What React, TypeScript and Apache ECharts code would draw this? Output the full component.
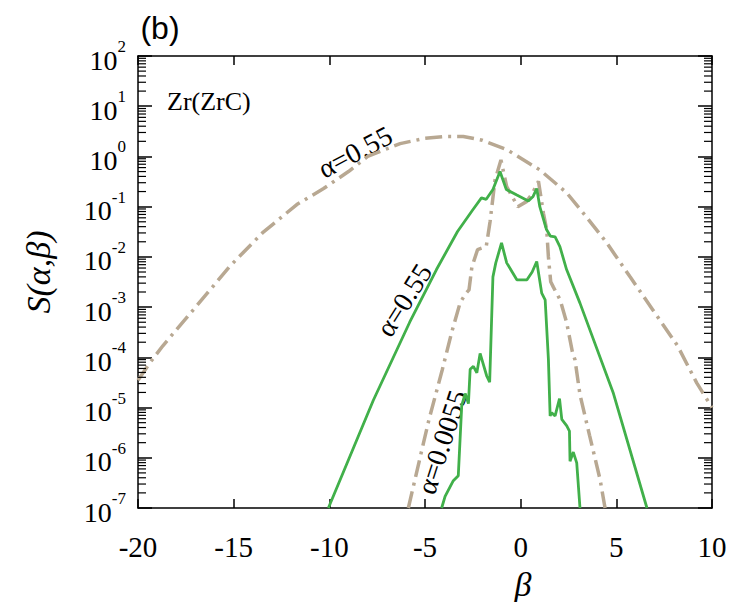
import { useEffect, useRef } from "react";
import * as echarts from "echarts";

const SERIF = "Liberation Serif";
const SANS = "Liberation Sans";
const BEIGE = "#b8a892";
const GREEN = "#41b04a";

// S(alpha, beta) for Zr in ZrC
const betaBroad = [-20, -19.4, -18.7, -16.9, -15.2, -13.5, -11.7, -10.3, -9.0, -8.0, -6.3, -5.0, -4.0, -3.0, -2.0, -0.7, 1.0, 2.4, 3.4, 4.5, 5.7, 6.9, 8.2, 9.2, 10];
const sBroad = [3.5e-5, 7.6e-5, 1.7e-4, 1.1e-3, 6.5e-3, 3.0e-2, 0.11, 0.23, 0.5, 1.0, 1.8, 2.3, 2.5, 2.5, 2.1, 1.35, 0.54, 0.19, 0.065, 0.019, 4.1e-3, 8.9e-4, 1.7e-4, 3.1e-5, 1.0e-5];

const betaGreen55 = [-10.05, -7.7, -5.8, -4.4, -3.3, -2.5, -2.05, -1.8, -1.45, -1.08, -0.75, -0.2, 0.4, 0.65, 0.84, 1.0, 1.35, 1.55, 1.8, 2.05, 2.4, 3.1, 4.85, 6.6];
const sGreen55 = [1.0e-7, 1.4e-5, 5.0e-4, 5.6e-3, 3.2e-2, 8.7e-2, 0.15, 0.14, 0.22, 0.5, 0.22, 0.17, 0.13, 0.16, 0.23, 0.1, 3.5e-2, 2.6e-2, 2.5e-2, 1.6e-2, 5.6e-3, 1.2e-3, 1.9e-5, 1.0e-7];

const betaBeige0055 = [-5.87, -5.26, -4.8, -4.1, -3.6, -3.17, -2.9, -2.7, -2.55, -2.25, -1.8, -1.6, -1.34, -1.03, -0.73, -0.15, 0.3, 0.6, 0.93, 1.19, 1.36, 1.45, 1.57, 1.71, 2.06, 2.4, 2.7, 2.84, 3.1, 3.6, 4.15, 4.41];
const sBeige0055 = [1.0e-7, 1.0e-6, 5.6e-6, 5.6e-5, 3.2e-4, 1.2e-3, 1.8e-3, 2.2e-3, 6.3e-3, 1.4e-2, 1.6e-2, 5.0e-2, 0.34, 0.85, 0.25, 0.1, 0.126, 0.18, 0.32, 7.4e-2, 3.5e-2, 1.0e-2, 3.2e-3, 2.5e-3, 1.4e-3, 5.0e-4, 1.3e-4, 8.9e-5, 1.8e-5, 2.8e-6, 3.7e-7, 1.0e-7];

const betaGreen0055 = [-4.13, -3.95, -3.52, -3.26, -3.08, -2.9, -2.73, -2.64, -2.47, -2.29, -2.12, -1.77, -1.62, -1.45, -1.3, -1.0, -0.73, -0.2, 0.33, 0.6, 0.84, 1.1, 1.28, 1.45, 1.54, 1.62, 1.8, 2.03, 2.15, 2.41, 2.55, 2.58, 2.75, 2.93, 3.1];
const sGreen0055 = [1.0e-7, 1.7e-7, 3.5e-7, 4.4e-7, 1.1e-5, 1.9e-5, 1.2e-5, 5.8e-5, 6.6e-5, 4.9e-5, 1.2e-4, 4.2e-5, 3.2e-5, 4.0e-3, 7.6e-3, 1.9e-2, 7.6e-3, 3.5e-3, 3.5e-3, 5.0e-3, 8.1e-3, 1.9e-3, 1.4e-3, 9.1e-5, 6.8e-6, 7.9e-6, 6.8e-6, 1.5e-5, 5.8e-6, 4.3e-6, 3.4e-6, 8.5e-7, 1.3e-6, 7.9e-7, 1.0e-7];

const X_MIN = -20;
const X_MAX = 10;
const Y_MIN = 1e-7;
const Y_MAX = 1e2;

// log-axis minor ticks at 2..9 x 10^n
const minorTicks: number[] = [];
for (let e = -7; e < 2; e++) {
  for (let m = 2; m <= 9; m++) minorTicks.push(m * Math.pow(10, e));
}

const pairs = (xs: number[], ys: number[]) => xs.map((x, i) => [x, ys[i]]);

const dashDot = [17, 6, 3, 6];

const label = (text: string, x: number, y: number, deg: number, size: number, extra: any = {}) => ({
  type: "text",
  x,
  y,
  rotation: (deg * Math.PI) / 180,
  style: {
    text,
    fontFamily: SERIF,
    fontSize: size,
    fill: "#000",
    align: "center",
    verticalAlign: "middle",
    ...extra,
  },
});

// one custom series per frame side; each item draws a short inward tick
const minorTickSeries = (side: "left" | "right") => ({
  type: "custom",
  silent: true,
  clip: false,
  z: 5,
  data: minorTicks.map((v) => [X_MIN, v]),
  renderItem: (params: any, api: any) => {
    const p = api.coord([api.value(0), api.value(1)]);
    const cs = params.coordSys;
    const x = side === "left" ? cs.x : cs.x + cs.width - 8;
    return {
      type: "rect",
      shape: { x, y: p[1] - 0.6, width: 8, height: 1.2 },
      style: { fill: "#000" },
    };
  },
});

export default function App() {
  const ref = useRef<HTMLDivElement>(null);

  useEffect(() => {
    document.body.style.margin = "0";
    const chart = echarts.init(ref.current!, null, { renderer: "svg" });

    const yLabel = (v: number) => {
      const e = Math.round(Math.log10(v));
      return `{b|10}{e|${e}}`;
    };

    const axisLine = { show: true, onZero: false, lineStyle: { color: "#000", width: 1.5 } };
    const xTick = { show: true, inside: true, length: 9, lineStyle: { color: "#000", width: 1.5 } };
    const yTick = { show: true, inside: true, length: 14, lineStyle: { color: "#000", width: 1.5 } };

    chart.setOption({
      animation: false,
      backgroundColor: "#fff",
      grid: { left: 138, right: 18, top: 56, bottom: 94 },
      xAxis: [
        {
          type: "value",
          min: X_MIN,
          max: X_MAX,
          interval: 5,
          axisLine,
          axisTick: xTick,
          axisLabel: { color: "#000", fontSize: 29, fontFamily: SERIF, margin: 24 },
          splitLine: { show: false },
        },
        {
          type: "value",
          position: "top",
          min: X_MIN,
          max: X_MAX,
          interval: 5,
          axisLine,
          axisTick: xTick,
          axisLabel: { show: false },
          splitLine: { show: false },
        },
      ],
      yAxis: [
        {
          type: "log",
          logBase: 10,
          min: Y_MIN,
          max: Y_MAX,
          splitNumber: 9,
          axisLine,
          axisTick: yTick,
          axisLabel: {
            color: "#000",
            margin: 12,
            formatter: yLabel,
            rich: {
              b: { fontSize: 28, fontFamily: SERIF, color: "#000", verticalAlign: "bottom", padding: [8, 0, 0, 0] },
              e: { fontSize: 17, fontFamily: SERIF, color: "#000", verticalAlign: "top" },
            },
          },
          splitLine: { show: false },
        },
        {
          type: "log",
          logBase: 10,
          min: Y_MIN,
          max: Y_MAX,
          splitNumber: 9,
          position: "right",
          axisLine,
          axisTick: yTick,
          axisLabel: { show: false },
          splitLine: { show: false },
        },
      ],
      series: [
        minorTickSeries("left"),
        minorTickSeries("right"),
        {
          name: "alpha=0.55 broad",
          type: "line",
          data: pairs(betaBroad, sBroad),
          showSymbol: false,
          lineStyle: { color: BEIGE, width: 3.5, type: dashDot },
        },
        {
          name: "alpha=0.0055 beige",
          type: "line",
          data: pairs(betaBeige0055, sBeige0055),
          showSymbol: false,
          lineStyle: { color: BEIGE, width: 3.5, type: dashDot },
        },
        {
          name: "alpha=0.55 green",
          type: "line",
          data: pairs(betaGreen55, sGreen55),
          showSymbol: false,
          lineStyle: { color: GREEN, width: 2.8 },
        },
        {
          name: "alpha=0.0055 green",
          type: "line",
          data: pairs(betaGreen0055, sGreen0055),
          showSymbol: false,
          lineStyle: { color: GREEN, width: 2.8 },
        },
      ],
      graphic: [
        label("(b)", 160, 28, 0, 32, { fontFamily: SANS }),
        label("Zr(ZrC)", 167, 101, 0, 26, { align: "left" }),
        label("S(α,β)", 38, 272, 90, 34, { fontStyle: "italic" }),
        label("β", 523, 584, 0, 34, { fontStyle: "italic" }),
        label("α=0.55", 355, 152, 28, 28),
        label("α=0.55", 404, 300, 58, 28),
        label("α=0.0055", 442, 442, 72, 28),
      ],
    });

    return () => chart.dispose();
  }, []);

  return <div ref={ref} style={{ width: 730, height: 602 }} />;
}
